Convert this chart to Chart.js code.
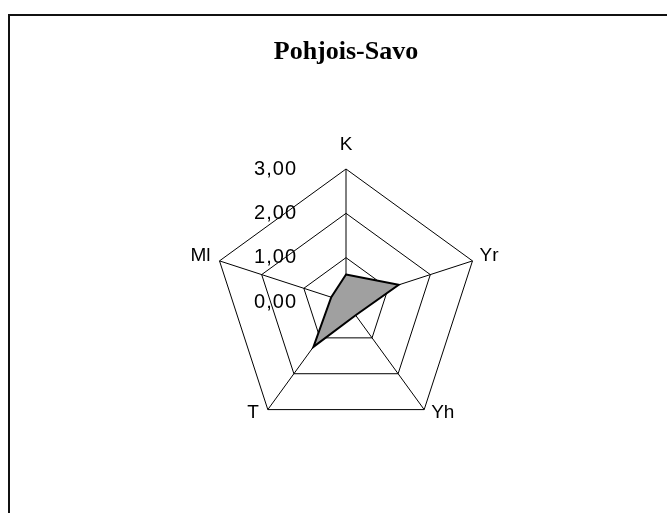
<!DOCTYPE html>
<html>
<head>
<meta charset="utf-8">
<script src="https://cdn.jsdelivr.net/npm/chart.js@4/dist/chart.umd.min.js"></script>
<style>
  body { margin: 0; width: 667px; height: 513px; overflow: hidden; background: #fff; position: relative; }
  #frame { position: absolute; left: 8px; top: 14px; width: 700px; height: 600px;
           border-left: 2px solid #111; border-top: 2px solid #111; }
  canvas { position: absolute; left: 0; top: 0; }
</style>
</head>
<body>
<div id="frame"></div>
<canvas id="radar" width="667" height="513"></canvas>
<script>
const chartTitle = 'Pohjois-Savo';
const categories = ['K', 'Yr', 'Yh', 'T', 'Ml'];
const values = [0.62, 1.25, 0.37, 1.25, 0.35];
const tickValues = [0, 1, 2, 3];
const tickLabels = ['0,00', '1,00', '2,00', '3,00'];

// title, tick labels and category labels drawn Excel-style
const labelPlugin = {
    id: 'excelLabels',
    afterDraw(chart) {
        const ctx = chart.ctx;
        const r = chart.scales.r;
        ctx.save();
        ctx.fillStyle = '#000';

        ctx.font = 'bold 26px "Liberation Serif"';
        ctx.textAlign = 'center';
        ctx.textBaseline = 'alphabetic';
        ctx.fillText(chartTitle, r.xCenter, 59);

        ctx.font = '20px "Liberation Sans"';
        ctx.letterSpacing = '1px';
        ctx.textAlign = 'right';
        ctx.textBaseline = 'middle';
        tickValues.forEach((v, i) => {
            const y = r.yCenter - r.getDistanceFromCenterForValue(v);
            ctx.fillText(tickLabels[i], r.xCenter - 49, y);
        });
        ctx.letterSpacing = '0px';

        ctx.font = '19px "Liberation Sans"';
        categories.forEach((c, i) => {
            const p = r.getPointPosition(i, r.drawingArea);
            const dx = p.x - r.xCenter;
            const dy = p.y - r.yCenter;
            if (Math.abs(dx) < 1) {
                ctx.textAlign = 'center';
                ctx.textBaseline = 'alphabetic';
                ctx.fillText(c, p.x, p.y - 19);
            } else {
                ctx.textAlign = dx > 0 ? 'left' : 'right';
                ctx.textBaseline = 'middle';
                ctx.fillText(c, p.x + (dx > 0 ? 7 : -9), p.y + (dy < 0 ? -5 : 3));
            }
        });
        ctx.restore();
    }
};

new Chart(document.getElementById('radar'), {
    type: 'radar',
    data: {
        labels: categories,
        datasets: [{
            label: chartTitle,
            data: values,
            backgroundColor: '#a0a0a0',
            borderColor: '#000',
            borderWidth: 2,
            pointRadius: 0,
            fill: true
        }]
    },
    options: {
        responsive: false,
        animation: false,
        devicePixelRatio: 1,
        layout: { padding: { left: 213, right: 188, top: 169, bottom: 78 } },
        scales: {
            r: {
                min: 0,
                max: 3,
                ticks: { stepSize: 1, display: false },
                grid: { color: '#000', lineWidth: 1 },
                angleLines: { color: '#000', lineWidth: 1 },
                pointLabels: { display: false }
            }
        },
        plugins: { legend: { display: false }, tooltip: { enabled: false } }
    },
    plugins: [labelPlugin]
});
</script>
</body>
</html>
